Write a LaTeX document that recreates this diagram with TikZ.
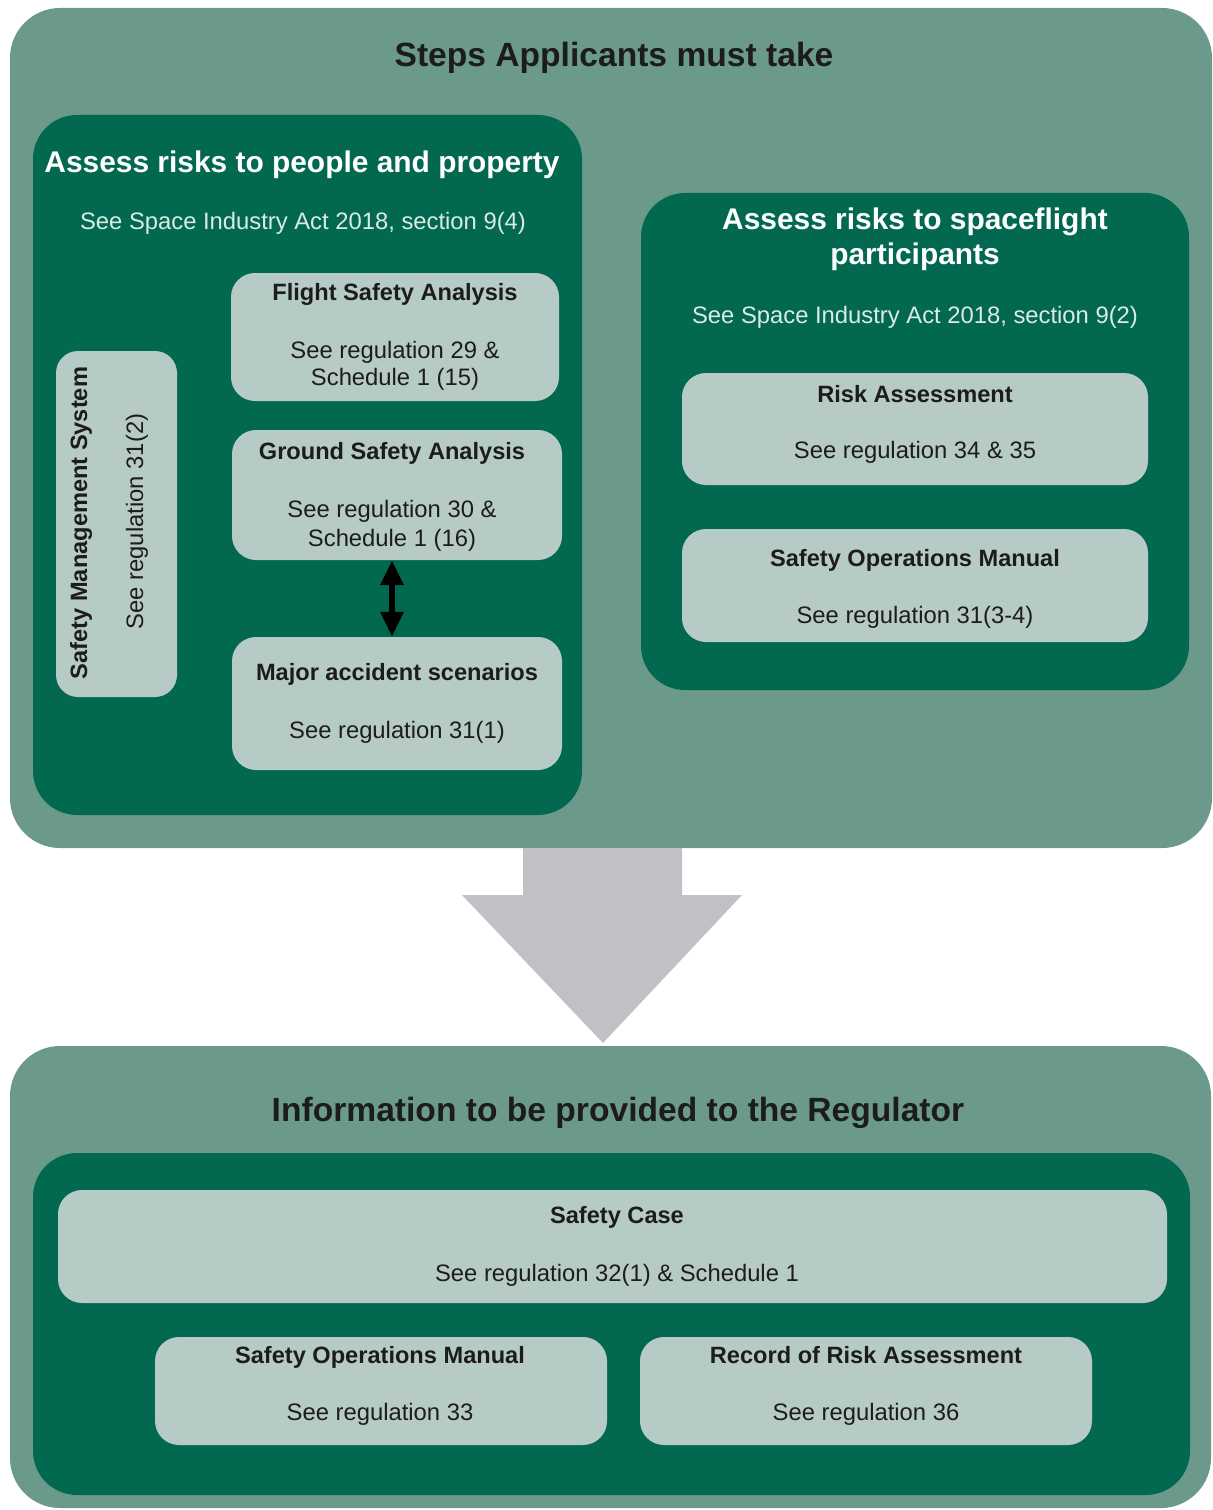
\documentclass[tikz,border=0pt]{standalone}
\usepackage{fontspec}
\setmainfont{Liberation Sans}
\usetikzlibrary{fit,arrows.meta}
\definecolor{outerc}{HTML}{6B9A8B}
\definecolor{darkc}{HTML}{02684F}
\definecolor{lightc}{HTML}{B7CBC6}
\definecolor{greyc}{HTML}{C1C0C4}
\definecolor{subc}{HTML}{DCEBE4}
\definecolor{txtc}{HTML}{1C1C1C}
\newcommand\fz[1]{\fontsize{#1bp}{1.2\dimexpr #1bp\relax}\selectfont}
\tikzset{
  outerbox/.style={fill=outerc, draw=none, rounded corners=50bp, inner sep=0pt},
  darkbox/.style={fill=darkc, draw=none, rounded corners=44bp, inner sep=0pt},
  lightbox/.style={fill=lightc, draw=none, rounded corners=24bp, inner sep=0pt},
  bigtitle/.style={anchor=base, inner sep=0pt, text=txtc, font=\fz{33.6}\bfseries},
  wtitle/.style={anchor=base, inner sep=0pt, text=white, font=\fz{29.9}\bfseries},
  subtext/.style={anchor=base, inner sep=0pt, text=subc, font=\fz{23.8}},
  btitle/.style={anchor=base, inner sep=0pt, text=txtc, font=\fz{23.6}\bfseries},
  btext/.style={anchor=base, inner sep=0pt, text=txtc, font=\fz{23.8}},
  dblarrow/.style={line width=6bp, draw=black, {Triangle[width=22bp,length=25bp]}-{Triangle[width=22bp,length=25bp]}}
}
\begin{document}
\begin{tikzpicture}[x=1bp,y=-1bp]
\useasboundingbox[fill=white] (0,0) rectangle (1212,1510);

% ---------- top outer box ----------
\node[outerbox, fit={(10,8) (1212,848)}] (top) {};
\node[bigtitle] (toptitle) at (614,67) {Steps Applicants must take};

% left dark box
\node[darkbox, fit={(33,115) (582,815)}] (left) {};
\node[wtitle] (lefttitle) at (302,173) {Assess risks to people and property};
\node[subtext] (leftsub) at (303,229) {See Space Industry Act 2018, section 9(4)};

\node[lightbox, fit={(231,273) (559,401)}] (fsa) {};
\node[btitle] (fsat) at (395,300) {Flight Safety Analysis};
\node[btext] (fsa1) at (395,358) {See regulation 29 \&};
\node[btext] (fsa2) at (395,385) {Schedule 1 (15)};

\node[lightbox, fit={(232,430) (562,560)}] (gsa) {};
\node[btitle] (gsat) at (392,459) {Ground Safety Analysis};
\node[btext] (gsa1) at (392,517) {See regulation 30 \&};
\node[btext] (gsa2) at (392,546) {Schedule 1 (16)};

\node[lightbox, fit={(232,637) (562,770)}] (mas) {};
\node[btitle] (mast) at (397,680) {Major accident scenarios};
\node[btext] (mas1) at (397,738) {See regulation 31(1)};

\draw[dblarrow] (gsa.south -| gsat.base) -- (mas.north -| gsat.base);

\node[lightbox, rounded corners=22bp, fit={(56,351) (177,697)}] (sms) {};
\node[btitle, rotate=90] (smst) at (87,523) {Safety Management System};
\node[btext, rotate=90] (sms1) at (143,521.5) {See regulation 31(2)};

% right dark box
\node[darkbox, fit={(641,193) (1189,690)}] (right) {};
\node[wtitle] (rt1) at (915,229) {Assess risks to spaceflight};
\node[wtitle] (rt2) at (915,264) {participants};
\node[subtext] (rsub) at (915,323) {See Space Industry Act 2018, section 9(2)};

\node[lightbox, fit={(682,373) (1148,485)}] (ra) {};
\node[btitle] (rat) at (915,402) {Risk Assessment};
\node[btext] (ra1) at (915,458) {See regulation 34 \& 35};

\node[lightbox, fit={(682,529) (1148,642)}] (som) {};
\node[btitle] (somt) at (915,566) {Safety Operations Manual};
\node[btext] (som1) at (915,623) {See regulation 31(3-4)};

% ---------- grey arrow ----------
\fill[greyc] (523,848) -- (682,848) -- (682,895) -- (742,895) -- (603,1043) -- (462,895) -- (523,895) -- cycle;

% ---------- bottom outer box ----------
\node[outerbox, fit={(10,1046) (1211,1508)}] (bottom) {};
\node[bigtitle] (bottitle) at (618,1121) {Information to be provided to the Regulator};

\node[darkbox, fit={(33,1153) (1190,1495)}] (bdark) {};

\node[lightbox, fit={(58,1190) (1167,1303)}] (sc) {};
\node[btitle] (sct) at (617,1223) {Safety Case};
\node[btext] (sc1) at (617,1281) {See regulation 32(1) \& Schedule 1};

\node[lightbox, fit={(155,1337) (607,1445)}] (som2) {};
\node[btitle] (som2t) at (380,1363) {Safety Operations Manual};
\node[btext] (som21) at (380,1420) {See regulation 33};

\node[lightbox, fit={(640,1337) (1092,1445)}] (rec) {};
\node[btitle] (rect) at (866,1363) {Record of Risk Assessment};
\node[btext] (rec1) at (866,1420) {See regulation 36};
\end{tikzpicture}
\end{document}
